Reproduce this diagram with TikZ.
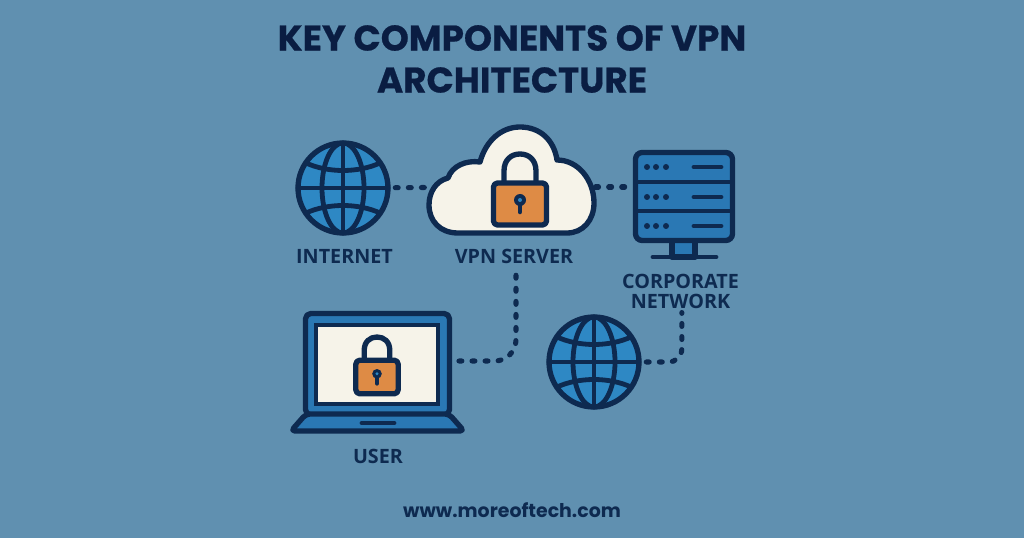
\documentclass[tikz,border=0pt]{standalone}
\usepackage{fontspec}
\setmainfont{Open Sans}
\newfontfamily\titlefont{Poppins}
\newfontfamily\headfont[FakeBold=0.6]{Poppins Bold}
\definecolor{bgblue}{HTML}{6090B0}
\definecolor{navy}{HTML}{0E2A50}
\definecolor{inkblue}{HTML}{0A1D42}
\definecolor{midblue}{HTML}{2A78B4}
\definecolor{globeblue}{HTML}{2E88C4}
\definecolor{lockorange}{HTML}{DE8B45}
\definecolor{cream}{HTML}{F6F3E9}
\tikzset{
  icon/.style={draw=navy, line width=4pt, line join=round},
  thinicon/.style={draw=navy, line width=3.6pt, line cap=round},
  anchorbox/.style={inner sep=0pt},
  link/.style={draw=navy, line width=3.8pt, line cap=round, dash pattern=on 2.2pt off 7.6pt},
  caption/.style={text=navy, font=\bfseries\fontsize{14.8}{15}\selectfont, align=center, inner sep=0pt},
  globe/.pic={
    \fill[globeblue] (0,0) circle (45);
    \draw[thinicon] (0,-45) -- (0,45); % Meridian
    \draw[thinicon] (-45,0) -- (45,0); % Equator
    \draw[thinicon] (0,0) ellipse (21 and 45);
    \draw[thinicon] (-37,-25) .. controls (-15,-15) and (15,-15) .. (37,-25); % Upper parallel
    \draw[thinicon] (-37,25) .. controls (-15,15) and (15,15) .. (37,25); % Lower parallel
    \draw[icon] (0,0) circle (45);
  },
  padlock/.pic={
    \draw[icon] (-16,-21) -- (-16,-33) .. controls (-16,-44) and (-9,-50) .. (0,-50)
      .. controls (9,-50) and (16,-44) .. (16,-33) -- (16,-21);
    \filldraw[icon, fill=lockorange, rounded corners=3pt] (-26.5,-21) rectangle (26.5,21);
    \fill[navy] (0,-4) circle (6);
    \draw[navy, line width=3.4pt, line cap=round] (0,-2) -- (0,8); % Keyhole
    \fill[globeblue] (0,-4) circle (2);
  }
}
\begin{document}
\begin{tikzpicture}[x=0.75pt, y=-0.75pt]
  \fill[bgblue] (0,0) rectangle (1024,538);
  \useasboundingbox (0,0) rectangle (1024,538);

  % Title
  \node[text=inkblue, font=\headfont\fontsize{26.8}{31.5}\selectfont, align=center, inner sep=0pt] (title) at (512,59) {KEY COMPONENTS OF VPN\\ARCHITECTURE};

  % Places of the icons
  \node[anchorbox, minimum width=78pt, minimum height=72pt] (internet) at (343,188) {};
  \node[anchorbox, minimum width=125pt, minimum height=80pt] (vpnserver) at (512,187) {};
  \node[anchorbox, minimum width=78pt, minimum height=70pt] (corporate) at (684,187) {};
  \node[anchorbox, minimum width=121pt, minimum height=90pt] (user) at (378,361) {};
  \node[anchorbox, minimum width=78pt, minimum height=72pt] (globetwo) at (594,362) {};

  % Labels
  \node[caption] (internetlabel) at (344.5,256) {INTERNET};
  \node[caption] (vpnlabel) at (514,256) {VPN SERVER};
  \node[caption] (corporatelabel) at (680.5,291) {CORPORATE\\NETWORK};
  \node[caption] (userlabel) at (378,456) {USER};
  \node[text=navy, font=\titlefont\bfseries\fontsize{14.2}{16}\selectfont, inner sep=0pt] (website) at (512,510) {www.moreoftech.com};

  % Dotted links, the icons go on top of them
  \draw[link] (internet) -- (vpnserver);
  \draw[link] (vpnserver) -- (corporate);
  \draw[link, rounded corners=16pt] (user.east) -| ([xshift=1.5pt, yshift=-3pt]vpnlabel.south);
  \draw[link, rounded corners=10pt] (globetwo.east) -| ([xshift=1pt, yshift=-3pt]corporatelabel.south);

  % Globes
  \pic at (internet) {globe};
  \pic at (globetwo) {globe};

  % Cloud with lock
  \filldraw[icon, fill=cream] (458,233) .. controls (440,233) and (429,221) .. (429,205)
    .. controls (429,192) and (436,181) .. (448,178)
    .. controls (452,166) and (466,160) .. (480,162)
    .. controls (486,140) and (502,127) .. (520,127)
    .. controls (540,127) and (554,140) .. (557,160)
    .. controls (578,160) and (594,180) .. (594,203)
    .. controls (594,220) and (583,233) .. (567,233) -- cycle;
  \pic at (520,204) {padlock};

  % Server rack
  \draw[icon, fill=midblue] (672,240) rectangle (695,257); % Stand
  \draw[thinicon] (653,257) -- (716,257);
  \filldraw[icon, fill=midblue, rounded corners=5pt] (635.5,152.5) rectangle (732.5,240.5);
  \foreach \y in {182,211} {
    \draw[thinicon, line cap=butt] (635.5,\y) -- (732.5,\y);
  }
  \foreach \y in {167,197,226} {
    \foreach \x in {647,656,666} {
      \fill[navy] (\x,\y) circle (3);
    }
    \draw[thinicon] (694,\y) -- (721,\y);
  }

  % Laptop
  \filldraw[icon, fill=midblue, rounded corners=4pt] (305.5,313.5) rectangle (449.5,415);
  \filldraw[draw=navy, line width=3.6pt, fill=cream] (316,325) rectangle (438,404);
  \pic[scale=0.8] at (377,377) {padlock};
  \filldraw[icon, fill=midblue, rounded corners=3pt] (306,414) -- (449,414) -- (464,431) -- (291,431) -- cycle;
  \draw[thinicon] (362,423) -- (394,423); % Touchpad
\end{tikzpicture}
\end{document}
